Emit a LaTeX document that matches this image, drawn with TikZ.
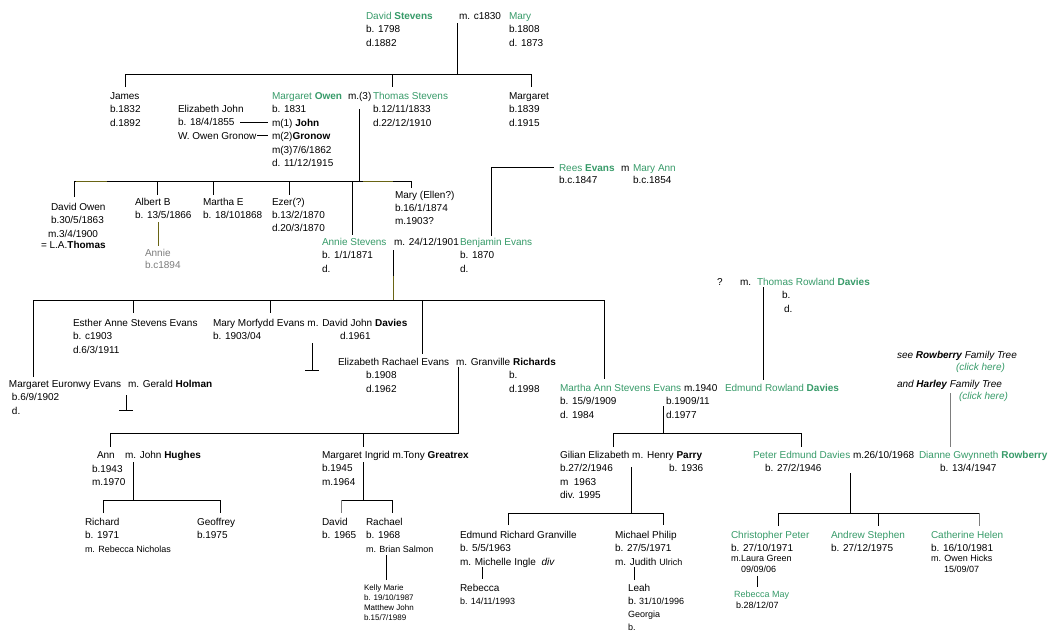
\documentclass[tikz,border=0pt]{standalone}
\usepackage{fontspec}
\setmainfont{Liberation Sans}
\usepackage{xcolor}
\definecolor{grn}{RGB}{55,155,105}
\definecolor{olv}{RGB}{105,100,20}
\definecolor{gry}{RGB}{125,125,125}
\newcommand\gtx[1]{\textcolor{grn}{#1}}
\newcommand\pp[1]{\begin{tabular}[t]{@{}l@{}}#1\end{tabular}}
\newcommand\smf{\fontsize{9}{11}\selectfont}
\tikzset{
  lbl/.style={anchor=base west, inner sep=0pt, outer sep=0pt, font=\fontsize{10}{13.5}\selectfont, text=black},
  lblsm/.style={lbl, font=\fontsize{9}{11}\selectfont},
  lbltiny/.style={lbl, font=\fontsize{8}{10}\selectfont},
  ln/.style={line width=1pt, draw=black},
  lnolv/.style={line width=1pt, draw=olv},
  lngry/.style={line width=1pt, draw=gry},
}
\begin{document}
\begin{tikzpicture}[x=1pt,y=-1pt]
\fill[white] (0,0) rectangle (1059,637);
\useasboundingbox (0,0) rectangle (1059,637);

% ---------- generation 1
\node[lbl] (ds) at (366,19) {\pp{\gtx{David \textbf{Stevens}}\\ b. 1798\\ d.1882}};
\node[lbl] (dsm) at (459,19) {m. c1830};
\node[lbl] (mary) at (509,19) {\pp{\gtx{Mary}\\ b.1808\\ d. 1873}};

% ---------- generation 2
\node[lbl] (james) at (110,99) {\pp{James\\ b.1832\\ d.1892}};
\node[lbl] (eliz) at (178,112) {\pp{Elizabeth John\\ b. 18/4/1855\\ W. Owen Gronow}};
\node[lbl] (mo) at (272,99) {\pp{\gtx{Margaret \textbf{Owen}}\\ b. 1831\\ m(1) \textbf{John}\\ m(2)\textbf{Gronow}\\ m(3)7/6/1862\\ d. 11/12/1915}};
\node[lbl] (mom) at (348,99) {m.(3)};
\node[lbl] (ts) at (373,99) {\pp{\gtx{Thomas Stevens}\\ b.12/11/1833\\ d.22/12/1910}};
\node[lbl] (marg) at (509,99) {\pp{Margaret\\ b.1839\\ d.1915}};

% ---------- generation 3
\node[lbl] (dowen) at (51,210) {\pp{David Owen\\[-0.5pt] b.30/5/1863}};
\node[lbl] (dowenm) at (48,237) {m.3/4/1900};
\node[lbl] (dowent) at (41,248) {= L.A.\textbf{Thomas}};
\node[lbl] (albert) at (135,205) {\pp{Albert B\\[-0.5pt] b. 13/5/1866}};
\node[lbl, text=gry] (annie) at (145,256) {\pp{Annie\\[-1.5pt] b.c1894}};
\node[lbl] (marthae) at (203,205) {\pp{Martha E\\[-0.5pt] b. 18/101868}};
\node[lbl] (ezer) at (272,205) {\pp{Ezer(?)\\[-0.5pt] b.13/2/1870\\[-0.5pt] d.20/3/1870}};
\node[lbl] (maryel) at (395,198) {\pp{Mary (Ellen?)\\[-0.5pt] b.16/1/1874\\[-0.5pt] m.1903?}};
\node[lbl] (annies) at (322,245) {\pp{\gtx{Annie Stevens}\\ b. 1/1/1871\\ d.}};
\node[lbl] (asm) at (394,245) {m. 24/12/1901};
\node[lbl] (benj) at (460,245) {\pp{\gtx{Benjamin Evans}\\ b. 1870\\ d.}};
\node[lbl] (rees) at (559,171) {\pp{\gtx{Rees \textbf{Evans}}\\[-1.5pt] b.c.1847}};
\node[lbl] (reesm) at (621,171) {m};
\node[lbl] (maryann) at (633,171) {\pp{\gtx{Mary Ann}\\[-1.5pt] b.c.1854}};

% ---------- generation 4
\node[lbl] (esther) at (73,326) {\pp{Esther Anne Stevens Evans\\ b. c1903\\ d.6/3/1911}};
\node[lbl] (mmorf) at (213,326) {\pp{Mary Morfydd Evans m. David John \textbf{Davies}\\ b. 1903/04}};
\node[lbl] (d1961) at (340,339.5) {d.1961};
\node[lbl] (elr) at (338,365) {Elizabeth Rachael Evans};
\node[lbl] (elrm) at (456,365) {m. Granville \textbf{Richards}};
\node[lbl] (elrb) at (366,378.5) {\pp{b.1908\\ d.1962}};
\node[lbl] (grb) at (509,378.5) {\pp{b.\\ d.1998}};
\node[lbl] (meur) at (9,387) {Margaret Euronwy Evans};
\node[lbl] (meurm) at (128,387) {m. Gerald \textbf{Holman}};
\node[lbl] (meurb) at (12,400.5) {\pp{b.6/9/1902\\ d.}};
\node[lbl] (martha) at (560,391) {\pp{\gtx{Martha Ann Stevens Evans}\\ b. 15/9/1909\\ d. 1984}};
\node[lbl] (mam) at (684,391) {m.1940};
\node[lbl] (mab) at (666,404.5) {\pp{b.1909/11\\ d.1977}};
\node[lbl] (edm) at (725,391) {\gtx{Edmund Rowland \textbf{Davies}}};
\node[lbl] (trq) at (717,285) {?};
\node[lbl] (trm) at (740,285) {m.};
\node[lbl] (trd) at (757,285) {\gtx{Thomas Rowland \textbf{Davies}}};
\node[lbl] (trb) at (782,298.5) {b.};
\node[lbl] (trdd) at (784,312) {d.};
\node[lbl] (see) at (897,358) {\textit{see \textbf{Rowberry} Family Tree}};
\node[lbl] (click1) at (956,370) {\gtx{\textit{(click here)}}};
\node[lbl] (andh) at (897,387) {\textit{and \textbf{Harley} Family Tree}};
\node[lbl] (click2) at (959,399) {\gtx{\textit{(click here)}}};

% ---------- generation 5
\node[lbl] (ann) at (97,458) {Ann};
\node[lbl] (annm) at (125,458) {m. John \textbf{Hughes}};
\node[lbl] (annb) at (92,472) {\pp{b.1943\\ m.1970}};
\node[lbl] (mi) at (322,458) {\pp{Margaret Ingrid m.Tony \textbf{Greatrex}\\ b.1945\\ m.1964}};
\node[lbl] (gilian) at (560,458) {\pp{Gilian Elizabeth m. Henry \textbf{Parry}\\ b.27/2/1946\\ m\ \ 1963\\ div. 1995}};
\node[lbl] (parryb) at (669,471.5) {b. 1936};
\node[lbl] (peter) at (753,458) {\gtx{Peter Edmund Davies}};
\node[lbl] (peterm) at (853,458) {m.26/10/1968};
\node[lbl] (dianne) at (919,458) {\gtx{Dianne Gwynneth \textbf{Rowberry}}};
\node[lbl] (peterb) at (765,471) {b. 27/2/1946};
\node[lbl] (dianneb) at (940,471) {b. 13/4/1947};

% ---------- generation 6
\node[lbl] (richard) at (85,525) {\pp{Richard\\ b. 1971\\ {\smf m. Rebecca Nicholas}}};
\node[lbl] (geoffrey) at (197,525) {\pp{Geoffrey\\ b.1975}};
\node[lbl] (david) at (322,525) {\pp{David\\ b. 1965}};
\node[lbl] (rachael) at (366,525) {\pp{Rachael\\ b. 1968\\ {\smf m. Brian Salmon}}};
\node[lbltiny] (kelly) at (364,590) {\pp{Kelly Marie\\ b. 19/10/1987\\ Matthew John\\ b.15/7/1989}};
\node[lbl] (edmr) at (460,538) {\pp{Edmund Richard Granville\\ b. 5/5/1963\\ m. Michelle Ingle \ \textit{div}}};
\node[lbl] (rebecca) at (460,591) {\pp{Rebecca\\ {\smf b. 14/11/1993}}};
\node[lbl] (michael) at (615,538) {\pp{Michael Philip\\ b. 27/5/1971\\ m. Judith {\smf Ulrich}}};
\node[lbl] (leah) at (628,591) {\pp{Leah\\[-0.5pt] b.\ {\smf 31/10/1996}\\[-0.5pt] {\smf Georgia}\\[-0.5pt] {\smf b.}}};
\node[lbl] (chris) at (731,538) {\pp{\gtx{Christopher Peter}\\ b. 27/10/1971}};
\node[lblsm] (chrism) at (731,561.5) {m.Laura Green};
\node[lblsm] (chrisd) at (741,572.5) {09/09/06};
\node[lblsm] (rebmay) at (734,597) {\gtx{Rebecca May}};
\node[lblsm] (rebmayb) at (736,608) {b.28/12/07};
\node[lbl] (andrew) at (831,538) {\pp{\gtx{Andrew Stephen}\\ b. 27/12/1975}};
\node[lbl] (cath) at (931,538) {\pp{\gtx{Catherine Helen}\\ b. 16/10/1981}};
\node[lblsm] (cathm) at (931,561.5) {m. Owen Hicks};
\node[lblsm] (cathd) at (944,572.5) {15/09/07};

% ================= connectors
% David Stevens & Mary -> children
\coordinate (u1) at (457,23);
\coordinate (b1) at (457,74);
\draw[ln] (u1) -- (b1);
\draw[ln] (125,87) -- (125,74) -- (531,74) -- (531,87);
\draw[ln] (392,74) -- (392,87);

% Margaret Owen's earlier marriages
\draw[ln] (240,122) -- (268,122);
\draw[ln] (257,135) -- (268,135);

% Margaret Owen & Thomas Stevens -> children
\coordinate (u2) at (359,109);
\coordinate (b2) at (359,181);
\draw[ln] (u2) -- (b2);
\draw[ln] (74,197) -- (74,181) -- (411,181) -- (411,188);
\draw[lnolv] (76,181) -- (107,181);
\draw[lnolv] (363,181) -- (393,181);
\draw[ln] (157,181) -- (157,195);
\draw[ln] (213,181) -- (213,195);
\draw[ln] (289,181) -- (289,195);
\draw[ln] (352,181) -- (352,235);
% Albert -> Annie
\draw[lnolv] (158,222) -- (158,246);

% Rees Evans -> Benjamin
\draw[ln] (491,236) -- (491,167) -- (554,167);

% Annie Stevens & Benjamin Evans -> children
\coordinate (u3) at (393,250);
\coordinate (b3) at (393,300);
\draw[ln] (u3) -- (393,276);
\draw[lnolv] (393,276) -- (b3);
\draw[ln] (33,377) -- (33,300) -- (604,300) -- (604,379);
\draw[ln] (133,300) -- (133,313);
\draw[ln] (270,300) -- (270,313);
\draw[ln] (422,300) -- (422,354);

% Mary Morfydd & David John Davies (no issue)
\draw[ln] (312,343) -- (312,370);
\draw[ln] (305,370) -- (319,370);
% Margaret Euronwy & Gerald Holman (no issue)
\draw[ln] (126,395) -- (126,410);
\draw[ln] (119,410) -- (133,410);

% Elizabeth Rachael & Granville Richards -> children
\coordinate (u4) at (458,367);
\draw[ln] (u4) -- (458,433) -- (110,433) -- (110,447);
\draw[ln] (363,433) -- (363,447);

% Ann & John Hughes -> children
\draw[ln] (133,462) -- (133,500);
\draw[ln] (103,513) -- (103,500) -- (220,500) -- (220,513);
% Margaret Ingrid & Tony Greatrex -> children
\draw[ln] (363,462) -- (363,500);
\draw[ln] (341,500) -- (392,500) -- (392,513);
\draw[lngry] (341,500) -- (341,513);
% Rachael -> Kelly, Matthew
\draw[ln] (386,555) -- (386,580);

% Thomas Rowland Davies -> Edmund Rowland
\draw[ln] (763,287) -- (763,380);

% Martha Ann & Edmund Rowland -> children
\coordinate (u5) at (663,406);
\draw[ln] (u5) -- (663,433);
\draw[ln] (613,447) -- (613,433) -- (801,433) -- (801,447);

% Rowberry -> Dianne
\draw[lngry] (950,393) -- (950,447);

% Gilian & Henry Parry -> children
\draw[ln] (631,467) -- (631,513);
\draw[ln] (508,525) -- (508,513) -- (663,513) -- (663,525);
\draw[ln] (482,567) -- (482,579);
\draw[ln] (634,567) -- (634,580);

% Peter & Dianne -> children
\draw[ln] (850,473) -- (850,513);
\draw[ln] (778,526) -- (778,513) -- (979,513);
\draw[lngry] (979,513) -- (979,526);
\draw[ln] (878,513) -- (878,526);
\draw[ln] (757,576) -- (757,587);
\end{tikzpicture}
\end{document}
